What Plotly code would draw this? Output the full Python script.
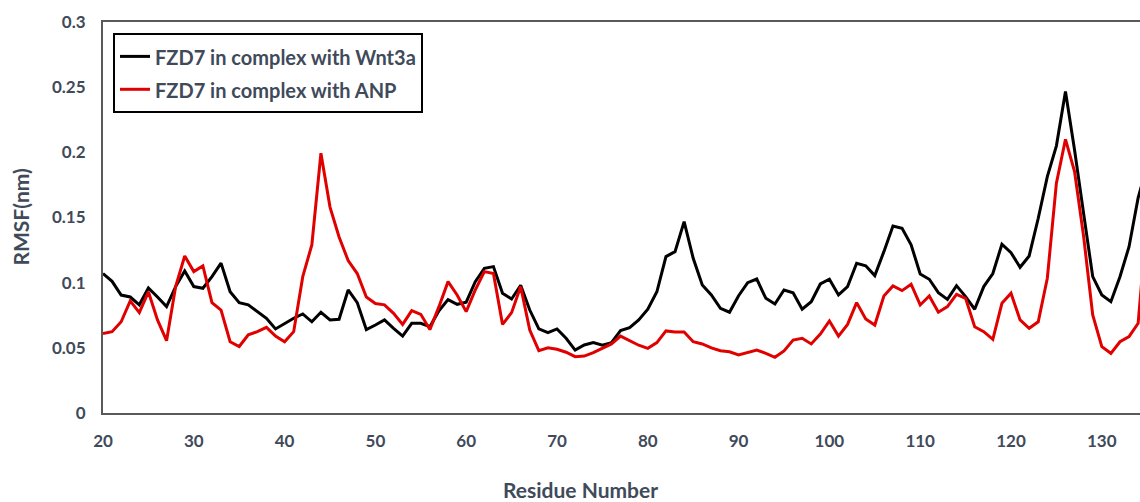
import plotly.graph_objects as go

# Numero dos residuos (o eixo corta em ~134)
residues = list(range(20, 136))

# RMSF (nm) - FZD7 com Wnt3a
rmsf_wnt3a = [
    0.107, 0.101, 0.0905, 0.089, 0.083, 0.096, 0.089, 0.0816, 0.097, 0.109,
    0.097, 0.0957, 0.1046, 0.115, 0.093, 0.0847, 0.083, 0.0778, 0.0727, 0.0645,
    0.0688, 0.0727, 0.076, 0.070, 0.0773, 0.0714, 0.0719, 0.0944, 0.0847, 0.064,
    0.0675, 0.0714, 0.065, 0.059, 0.0688, 0.0688, 0.0662, 0.0785, 0.087, 0.0834,
    0.085, 0.1008, 0.111, 0.1123, 0.0919, 0.0875, 0.098, 0.079, 0.0645, 0.0616,
    0.0645, 0.0573, 0.0483, 0.0522, 0.054, 0.052, 0.054, 0.0632, 0.0655, 0.0714,
    0.0796, 0.093, 0.120, 0.1238, 0.1468, 0.1187, 0.0982, 0.0906, 0.0803, 0.0773,
    0.090, 0.100, 0.1028, 0.088, 0.0836, 0.0944, 0.0923, 0.0796, 0.0854, 0.099,
    0.1026, 0.0906, 0.097, 0.1149, 0.113, 0.1054, 0.1238, 0.1435, 0.1417, 0.129,
    0.1067, 0.1026, 0.0923, 0.0872, 0.0977, 0.0893, 0.0796, 0.097, 0.107, 0.1295,
    0.123, 0.1118, 0.1205, 0.1494, 0.1814, 0.205, 0.2466, 0.2018, 0.153, 0.1046,
    0.0906, 0.0854, 0.1046, 0.1276, 0.165, 0.19,
]

# RMSF (nm) - FZD7 com ANP
rmsf_anp = [
    0.061, 0.0624, 0.070, 0.086, 0.077, 0.093, 0.0714, 0.0555, 0.097, 0.1205,
    0.1085, 0.1128, 0.0847, 0.079, 0.0547, 0.051, 0.060, 0.0624, 0.0657, 0.059,
    0.0547, 0.0624, 0.1046, 0.129, 0.1993, 0.158, 0.135, 0.117, 0.107, 0.089,
    0.084, 0.083, 0.0765, 0.068, 0.0785, 0.0757, 0.064, 0.0816, 0.1008, 0.0906,
    0.0778, 0.0944, 0.1085, 0.107, 0.068, 0.077, 0.097, 0.0637, 0.0478, 0.050,
    0.0489, 0.0466, 0.0432, 0.0437, 0.0463, 0.0494, 0.053, 0.059, 0.0555, 0.052,
    0.0496, 0.054, 0.063, 0.0622, 0.0622, 0.0547, 0.053, 0.0499, 0.0478, 0.047,
    0.0445, 0.0463, 0.0483, 0.0458, 0.0427, 0.0476, 0.056, 0.0573, 0.053, 0.0606,
    0.0706, 0.059, 0.068, 0.0847, 0.0721, 0.0675, 0.0898, 0.0975, 0.0939, 0.0988,
    0.0829, 0.0898, 0.0773, 0.0816, 0.0911, 0.088, 0.0662, 0.0624, 0.0565, 0.0842,
    0.0919, 0.0714, 0.065, 0.070, 0.1034, 0.1763, 0.210, 0.1852, 0.1353, 0.0752,
    0.0509, 0.0458, 0.0547, 0.0586, 0.0688, 0.15,
]

x_ticks = list(range(20, 131, 10))
y_ticks = [0, 0.05, 0.1, 0.15, 0.2, 0.25, 0.3]

text_color = "#3f4a5a"
font_family = "Lato, Open Sans, sans-serif"

# Texto da legenda menor que a fonte da legenda, para espaçar as linhas
def legend_label(txt):
    return f'<span style="font-size:20px"><b>{txt}</b></span>'

fig = go.Figure()

fig.add_trace(
    go.Scatter(
        x = residues,
        y = rmsf_wnt3a,
        mode = "lines",
        name = legend_label("FZD7 in complex with Wnt3a"),
        line = dict(color = "#000000", width = 3)
    )
)

fig.add_trace(
    go.Scatter(
        x = residues,
        y = rmsf_anp,
        mode = "lines",
        name = legend_label("FZD7 in complex with ANP"),
        line = dict(color = "#e00000", width = 3)
    )
)

plot_w = 1140 - 103
fig.update_layout(
    width = 1140,
    height = 502,
    margin = dict(l = 103, r = 0, t = 22, b = 89),
    paper_bgcolor = "white",
    plot_bgcolor = "white",
    font = dict(family = font_family, color = text_color, size = 15),
    showlegend = True,
    legend = dict(
        x = 10 / plot_w,
        y = 0.972,
        xanchor = "left",
        yanchor = "top",
        bordercolor = "#000000",
        borderwidth = 2,
        bgcolor = "white",
        font = dict(size = 23, color = text_color),
        tracegroupgap = 0,
        itemwidth = 30,
        entrywidth = 312,
    ),
    xaxis = dict(
        range = [20, 20 + plot_w / 9.08],
        tickvals = x_ticks,
        ticktext = [f"<b>{v}</b>" for v in x_ticks],
        showgrid = False,
        zeroline = False,
        showline = True,
        linecolor = "#595959",
        linewidth = 2,
        mirror = True,
        ticks = "",
        automargin = False,
        ticklabelstandoff = 12,
        tickfont = dict(size = 17, color = text_color),
    ),
    yaxis = dict(
        range = [0, 0.3],
        tickvals = y_ticks,
        ticktext = [f"<b>{v:g}</b>" for v in y_ticks],
        showgrid = False,
        zeroline = False,
        showline = True,
        linecolor = "#595959",
        linewidth = 2,
        ticks = "",
        automargin = False,
        ticklabelstandoff = 12,
        tickfont = dict(size = 17, color = text_color),
    ),
    annotations = [
        dict(
            text = "<b>Residue Number</b>",
            xref = "paper", yref = "paper",
            x = (580 - 103) / plot_w, y = (413 - 489) / 391,
            xanchor = "center", yanchor = "middle",
            showarrow = False,
            font = dict(size = 21, color = text_color),
        ),
        dict(
            text = "<b>RMSF(nm)</b>",
            xref = "paper", yref = "paper",
            x = (20 - 103) / plot_w, y = 0.5,
            xanchor = "center", yanchor = "middle",
            textangle = -90,
            showarrow = False,
            font = dict(size = 21, color = text_color),
        ),
    ],
)

# Tira a margem padrao do body para a figura ocupar a janela toda
fig.write_html(
    "out.html",
    config = {"displayModeBar": False},
    post_script = "document.body.style.margin = '0';",
)
